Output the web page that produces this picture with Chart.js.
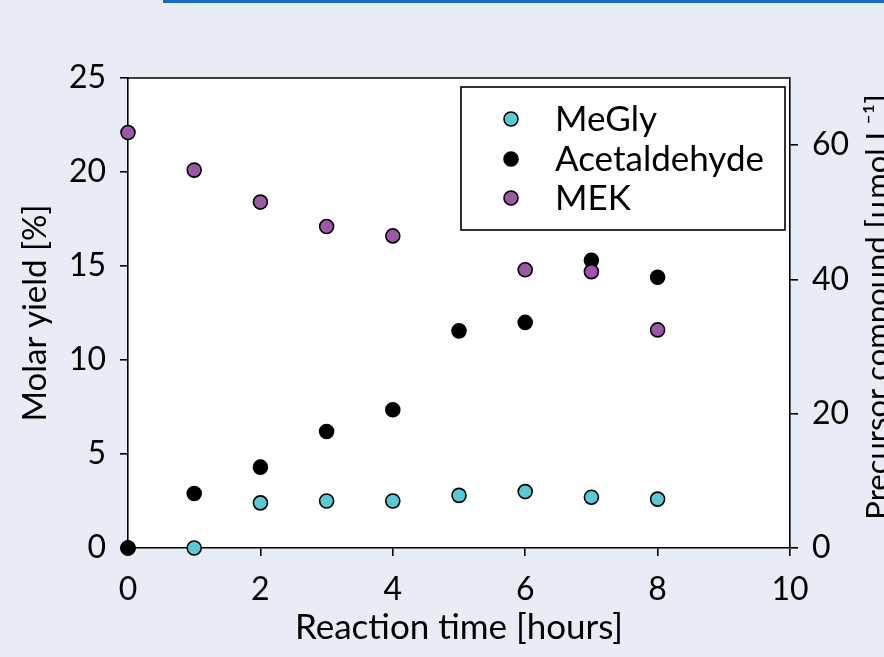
<!DOCTYPE html>
<html>
<head>
<meta charset="utf-8">
<script src="https://cdn.jsdelivr.net/npm/chart.js@4.4.1/dist/chart.umd.min.js"></script>
<style>
  html, body { margin: 0; padding: 0; background: #e8ecf6; }
  #wrap { width: 884px; height: 657px; }
</style>
</head>
<body>
<div id="wrap"><canvas id="yield_chart" width="884" height="657"></canvas></div>
<script>
// data
const hours = [0, 1, 2, 3, 4, 5, 6, 7, 8];
const meGly = [0, 0, 2.4, 2.5, 2.5, 2.8, 3.0, 2.7, 2.6];
const acetaldehyde = [0, 2.9, 4.3, 6.2, 7.35, 11.55, 12.0, 15.3, 14.4];
const mek = [22.1, 20.1, 18.4, 17.1, 16.6, null, 14.8, 14.7, 11.6];

const xTicks = [0, 2, 4, 6, 8, 10];
const yTicks = [0, 5, 10, 15, 20, 25];
const y1Ticks = [0, 20, 40, 60];

const FONT = 'Lato';

function toPoints(xs, ys) {
  const pts = [];
  for (let i = 0; i < xs.length; i++) {
    if (ys[i] !== null) pts.push({ x: xs[i], y: ys[i] });
  }
  return pts;
}

function pointSet(label, values, fill, order) {
  return {
    label: label,
    data: toPoints(hours, values),
    backgroundColor: fill,
    borderColor: '#000000',
    borderWidth: 1.6,
    pointRadius: 7,
    pointHoverRadius: 7,
    showLine: false,
    clip: false,
    order: order
  };
}

// page background, blue bar, white plot area
const backdrop = {
  id: 'backdrop',
  beforeDraw(chart) {
    const ctx = chart.ctx;
    const a = chart.chartArea;
    ctx.save();
    ctx.fillStyle = '#e8ecf6';
    ctx.fillRect(0, 0, chart.width, chart.height);
    ctx.fillStyle = '#1b6fba';
    ctx.fillRect(163, 0, chart.width - 163, 3);
    ctx.fillStyle = '#ffffff';
    ctx.fillRect(a.left, a.top, a.right - a.left, a.bottom - a.top);
    ctx.restore();
  },
  beforeDatasetsDraw(chart) {
    // top edge of the frame
    const ctx = chart.ctx;
    const a = chart.chartArea;
    ctx.save();
    ctx.strokeStyle = '#000';
    ctx.lineWidth = 1.6;
    ctx.beginPath();
    ctx.moveTo(a.left, a.top);
    ctx.lineTo(a.right, a.top);
    ctx.stroke();
    ctx.restore();
  }
};

// boxed legend inside the plot, plus right axis title (reads bottom to top)
const extras = {
  id: 'extras',
  afterDraw(chart) {
    const ctx = chart.ctx;
    ctx.save();
    const bx = 461, by = 87, bw = 324, bh = 143;
    ctx.fillStyle = '#fff';
    ctx.fillRect(bx, by, bw, bh);
    ctx.strokeStyle = '#000';
    ctx.lineWidth = 1.6;
    ctx.strokeRect(bx, by, bw, bh);

    const rows = [119, 159, 198];
    ctx.font = '35px ' + FONT;
    ctx.textBaseline = 'middle';
    ctx.textAlign = 'left';
    [0, 1, 2].forEach((idx, i) => {
      const ds = chart.data.datasets[idx];
      ctx.beginPath();
      ctx.arc(511, rows[i], 7, 0, Math.PI * 2);
      ctx.fillStyle = ds.backgroundColor;
      ctx.fill();
      ctx.lineWidth = 1.6;
      ctx.strokeStyle = '#000';
      ctx.stroke();
      ctx.fillStyle = '#000';
      ctx.fillText(ds.label, 555, rows[i] + 1);
    });

    const a = chart.chartArea;
    ctx.font = '31px ' + FONT;
    ctx.translate(888, (a.top + a.bottom) / 2 - 6);
    ctx.rotate(-Math.PI / 2);
    ctx.textAlign = 'center';
    ctx.textBaseline = 'alphabetic';
    ctx.fillText('Precursor compound [µmol L⁻¹]', 0, 0);
    ctx.restore();
  }
};

const axisCommon = {
  border: { display: true, color: '#000', width: 1.6 },
  grid: { drawOnChartArea: false, drawTicks: true, tickLength: 8, color: '#000', lineWidth: 1.6 },
};

const config = {
  type: 'scatter',
  data: {
    datasets: [
      pointSet('MeGly', meGly, '#5bc8d6', 3),
      pointSet('Acetaldehyde', acetaldehyde, '#000000', 2),
      pointSet('MEK', mek, '#9b59a5', 1)
    ]
  },
  options: {
    responsive: false,
    animation: false,
    layout: { padding: { top: 78, left: 0, right: 0, bottom: 0 } },
    plugins: {
      legend: { display: false },
      tooltip: { enabled: false }
    },
    scales: {
      x: {
        type: 'linear',
        position: 'bottom',
        min: 0,
        max: 10,
        ...axisCommon,
        afterBuildTicks: (s) => { s.ticks = xTicks.map(v => ({ value: v })); },
        afterFit: (s) => { s.height = 109; },
        ticks: { color: '#000', font: { family: FONT, size: 32 }, padding: 14, maxRotation: 0 },
        title: {
          display: true,
          text: 'Reaction time [hours]',
          color: '#000',
          font: { family: FONT, size: 35 },
          padding: { top: 0, bottom: 8 }
        }
      },
      y: {
        type: 'linear',
        position: 'left',
        min: 0,
        max: 25,
        ...axisCommon,
        afterBuildTicks: (s) => { s.ticks = yTicks.map(v => ({ value: v })); },
        afterFit: (s) => { s.width = 128; },
        ticks: { color: '#000', font: { family: FONT, size: 32 }, padding: 14 },
        title: {
          display: true,
          text: 'Molar yield [%]',
          color: '#000',
          font: { family: FONT, size: 33 },
          padding: { top: 16, bottom: 0 }
        }
      },
      y1: {
        type: 'linear',
        position: 'right',
        min: 0,
        max: 70,
        ...axisCommon,
        afterBuildTicks: (s) => { s.ticks = y1Ticks.map(v => ({ value: v })); },
        afterFit: (s) => { s.width = 94; },
        ticks: { color: '#000', font: { family: FONT, size: 32 }, padding: 14 }
      }
    }
  },
  plugins: [backdrop, extras]
};

const myChart = new Chart(document.getElementById('yield_chart'), config);
</script>
</body>
</html>
